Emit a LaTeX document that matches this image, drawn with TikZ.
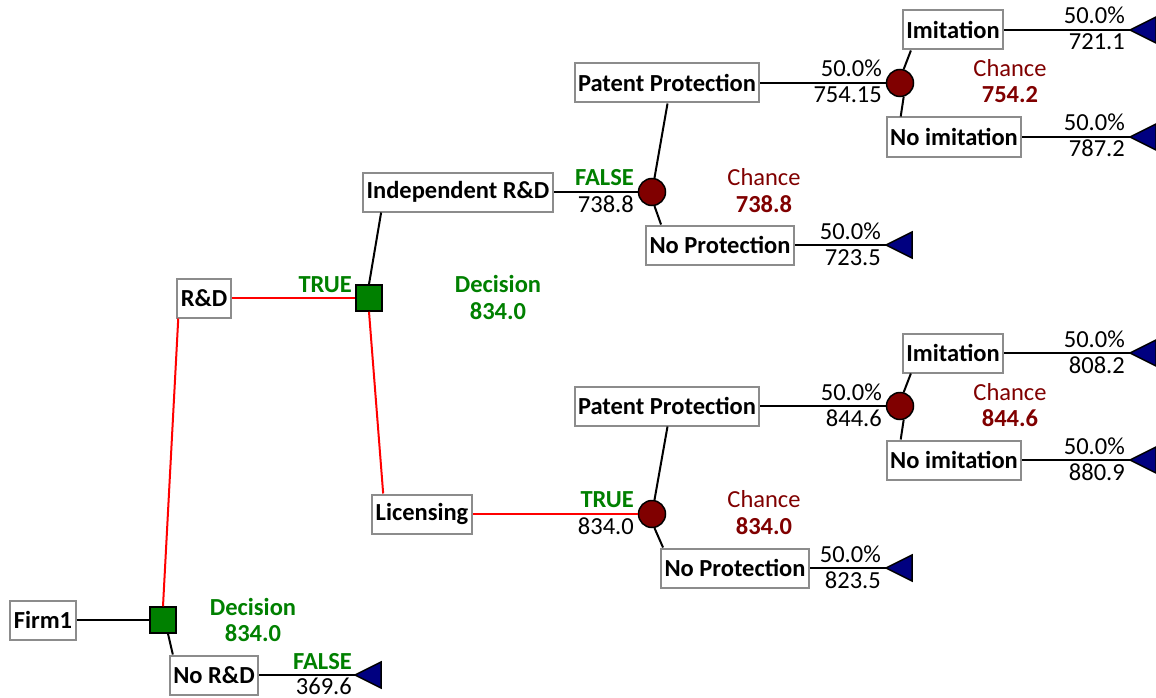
\documentclass[tikz,border=0pt]{standalone}
\usepackage{fontspec}
\setmainfont{Carlito}
\usetikzlibrary{calc}
\definecolor{dgreen}{HTML}{008000}
\definecolor{dred}{HTML}{800000}
\definecolor{navyb}{HTML}{000080}
\definecolor{boxgray}{HTML}{8C8C8C}
\newcommand\dtfont{\fontsize{24.5}{27}\selectfont}
\begin{document}
\begin{tikzpicture}[x=1pt,y=-1pt,
 tbox/.style={draw=boxgray, line width=2pt, fill=white, font=\dtfont\bfseries, inner xsep=3.5pt, inner ysep=0pt, minimum height=39pt},
 dec/.style={draw=black, line width=1.5pt, fill=dgreen, minimum size=26pt, inner sep=0pt},
 chn/.style={circle, draw=black, line width=1.5pt, fill=dred, minimum size=27pt, inner sep=0pt},
 conn/.style={line width=2pt, black},
 optc/.style={line width=2pt, red},
 tri/.style={draw=black, line width=1.5pt, fill=navyb, line join=miter},
 lbl/.style={font=\dtfont, anchor=base east, inner sep=0pt},
 tf/.style={font=\dtfont\bfseries, anchor=base east, inner sep=0pt, text=dgreen},
 dcl/.style={font=\dtfont\bfseries, anchor=base, inner sep=0pt, text=dgreen},
 chl/.style={font=\dtfont, anchor=base, inner sep=0pt, text=dred},
 chv/.style={font=\dtfont\bfseries, anchor=base, inner sep=0pt, text=dred}]
\useasboundingbox (0,0) rectangle (1156,698);

% ---- nodes ----
\node[tbox] (firm) at (43,620) {Firm1};
\node[dec] (d1) at (163,620) {};
\node[tbox] (rd) at (204,298) {R\&D};
\node[tbox] (nrd) at (214,675) {No R\&D};
\coordinate (t0) at (355,675);

\node[dec] (d2) at (369,298) {};
\node[tbox] (ind) at (458,192) {Independent R\&D};
\node[tbox] (lic) at (422,514) {Licensing};

\node[chn] (c2) at (652,192) {};
\node[tbox] (pp1) at (667,83) {Patent Protection};
\node[tbox] (np1) at (720,245) {No Protection};
\node[chn] (c1) at (900,83) {};
\node[tbox] (im1) at (953,30) {Imitation};
\node[tbox] (ni1) at (954,137) {No imitation};
\coordinate (t1) at (1130,30);
\coordinate (t2) at (1130,137);
\coordinate (t3) at (886,245);

\node[chn] (c4) at (652,514) {};
\node[tbox] (pp2) at (667,406) {Patent Protection};
\node[tbox] (np2) at (735,568) {No Protection};
\node[chn] (c3) at (900,406) {};
\node[tbox] (im2) at (953,353) {Imitation};
\node[tbox] (ni2) at (954,460) {No imitation};
\coordinate (t4) at (1130,353);
\coordinate (t5) at (1130,460);
\coordinate (t6) at (886,568);

% ---- connectors ----
\draw[conn] (firm.east) -- (d1.west);
\draw[optc] (d1.north) -- ($(rd.south west)+(2,0)$);
\draw[conn] (d1.-70) -- ($(nrd.north west)+(4,0)$);
\draw[conn] (nrd.east) -- (t0);
\draw[optc] (rd.east) -- (d2.west);
\draw[conn] (d2.north) -- ($(ind.south west)+(19,0)$);
\draw[optc] (d2.south) -- ($(lic.north west)+(12,0)$);

\draw[conn] (ind.east) -- (c2.west);
\draw[conn] (c2.80) -- ($(pp1.south west)+(94,0)$);
\draw[conn] (c2.-80) -- ($(np1.north west)+(16,0)$);
\draw[conn] (pp1.east) -- (c1.west);
\draw[conn] (c1.75) -- ($(im1.south west)+(9,0)$);
\draw[conn] (c1.-75) -- ($(ni1.north west)+(15,0)$);
\draw[conn] (im1.east) -- (t1);
\draw[conn] (ni1.east) -- (t2);
\draw[conn] (np1.east) -- (t3);

\draw[optc] (lic.east) -- (c4.west);
\draw[conn] (c4.80) -- ($(pp2.south west)+(94,0)$);
\draw[conn] (c4.-80) -- ($(np2.north west)+(3,0)$);
\draw[conn] (pp2.east) -- (c3.west);
\draw[conn] (c3.75) -- ($(im2.south west)+(9,0)$);
\draw[conn] (c3.-75) -- ($(ni2.north west)+(15,0)$);
\draw[conn] (im2.east) -- (t4);
\draw[conn] (ni2.east) -- (t5);
\draw[conn] (np2.east) -- (t6);

% ---- terminal triangles ----
\foreach \t in {t0,t1,t2,t3,t4,t5,t6}
  \draw[tri] (\t) -- ++(26,-13) -- ++(0,26) -- cycle;

% ---- labels ----
\node[dcl] (dl1a) at (253,615) {Decision};
\node[dcl] (dl1b) at (253,641) {834.0};
\node[tf] (lf0) at (352,669) {FALSE};
\node[lbl] (lv0) at (352,694) {369.6};
\node[tf] (lt1) at (352,292) {TRUE};
\node[dcl] (dl2a) at (498,292) {Decision};
\node[dcl] (dl2b) at (498,319) {834.0};

\node[tf] (lf2) at (634,185) {FALSE};
\node[lbl] (lv2) at (634,212) {738.8};
\node[chl] (cl2a) at (764,185) {Chance};
\node[chv] (cl2b) at (764,212) {738.8};
\node[lbl] (lp1) at (882,77) {50.0\%};
\node[lbl] (lv1) at (882,103) {754.15};
\node[chl] (cl1a) at (1010,77) {Chance};
\node[chv] (cl1b) at (1010,103) {754.2};
\node[lbl] (lpi1) at (1125,24) {50.0\%};
\node[lbl] (lvi1) at (1125,50) {721.1};
\node[lbl] (lpn1) at (1125,131) {50.0\%};
\node[lbl] (lvn1) at (1125,157) {787.2};
\node[lbl] (lpp1) at (881,239) {50.0\%};
\node[lbl] (lvp1) at (881,265) {723.5};

\node[tf] (lt4) at (634,507) {TRUE};
\node[lbl] (lv4) at (634,534) {834.0};
\node[chl] (cl4a) at (764,507) {Chance};
\node[chv] (cl4b) at (764,534) {834.0};
\node[lbl] (lp3) at (882,400) {50.0\%};
\node[lbl] (lv3) at (882,426) {844.6};
\node[chl] (cl3a) at (1010,400) {Chance};
\node[chv] (cl3b) at (1010,426) {844.6};
\node[lbl] (lpi2) at (1125,347) {50.0\%};
\node[lbl] (lvi2) at (1125,373) {808.2};
\node[lbl] (lpn2) at (1125,454) {50.0\%};
\node[lbl] (lvn2) at (1125,480) {880.9};
\node[lbl] (lpp2) at (881,562) {50.0\%};
\node[lbl] (lvp2) at (881,588) {823.5};
\end{tikzpicture}
\end{document}
